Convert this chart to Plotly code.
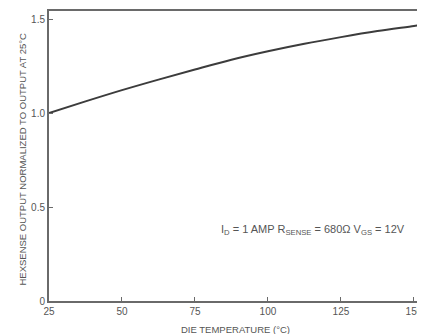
import plotly.graph_objects as go

temps = [25, 37.5, 50, 62.5, 75, 87.5, 100, 112.5, 125, 137.5, 150, 152]
output = [1.00, 1.062, 1.122, 1.178, 1.232, 1.284, 1.329, 1.369, 1.404, 1.436, 1.463, 1.468]
x_ticks = [25, 50, 75, 100, 125, 150]
y_ticks = [0, 0.5, 1.0, 1.5]
y_tick_text = ["0", "0.5", "1.0", "1.5"]

FONT = "Liberation Sans Narrow, Arial Narrow, Liberation Sans, sans-serif"
AX = "#6a6a6a"

fig = go.Figure()
fig.add_trace(go.Scatter(x=temps, y=output, mode="lines",
                         line=dict(color="#3c3c3c", width=2, shape="spline"),
                         hoverinfo="skip", showlegend=False))

# page body has an 8px margin, so the figure is sized to fill the rest of the window
fig.update_layout(
    width=417, height=326,
    margin=dict(l=41, r=0, t=3, b=33),
    paper_bgcolor="white", plot_bgcolor="white",
    font=dict(family=FONT, size=9, color="#555"),
    showlegend=False,
    xaxis=dict(range=[25, 153.8], tickvals=x_ticks, ticks="inside", ticklen=4,
               tickcolor=AX, showline=True, linecolor=AX, linewidth=2,
               mirror=True, showgrid=False, zeroline=False,
               ticklabeloverflow="allow",
               tickfont=dict(family=FONT, size=10, color="#555")),
    yaxis=dict(range=[0, 1.543], tickvals=y_ticks, ticktext=y_tick_text,
               ticks="inside", ticklen=4, tickcolor=AX, showline=True,
               linecolor=AX, linewidth=2, showgrid=False, zeroline=False,
               tickfont=dict(family=FONT, size=10, color="#555")),
    annotations=[
        dict(x=115.5, y=0.38, xref="x", yref="y", showarrow=False,
             text="I<sub>D</sub> = 1 AMP R<sub>SENSE</sub> = 680Ω V<sub>GS</sub> = 12V",
             font=dict(family=FONT, size=11, color="#555")),
        dict(x=0.497, y=-0.097, xref="paper", yref="paper", showarrow=False,
             text="DIE TEMPERATURE (°C)", xanchor="center", yanchor="middle",
             borderpad=0,
             font=dict(family=FONT, size=9.5, color="#555")),
        dict(x=-0.09, y=0.49, xref="paper", yref="paper", showarrow=False,
             text="HEXSENSE OUTPUT NORMALIZED TO OUTPUT AT 25°C", textangle=-90,
             font=dict(family=FONT, size=9.5, color="#555")),
    ],
)

fig.write_html("out.html")
